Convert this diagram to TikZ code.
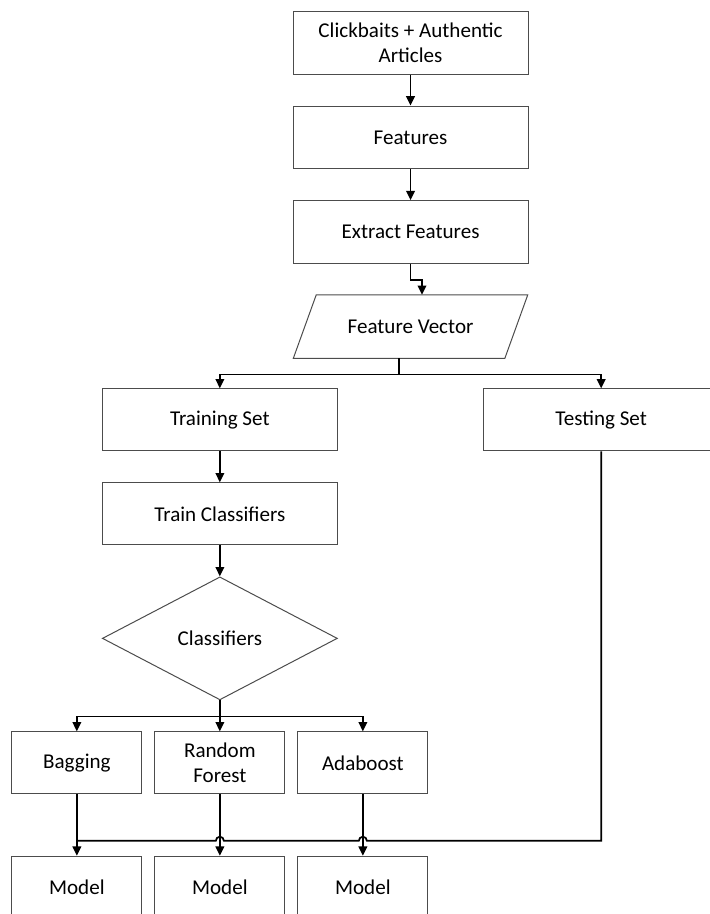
\documentclass[tikz,border=0pt]{standalone}
\usepackage{fontspec}
\setmainfont{Carlito}
\usetikzlibrary{positioning,shapes.geometric,arrows.meta,calc}

\begin{document}
\begin{tikzpicture}[node distance=23.25pt,
      font=\fontsize{15.8}{19.2}\selectfont,
      block/.style={
        % The shape:
        rectangle,minimum width=176.25pt,minimum height=47pt,
        % The rest
        align=center,draw=black!70,line width=0.75pt},
      lower/.style={block,minimum height=46.5pt},
      small/.style={lower,minimum width=97.5pt},
      decision/.style={diamond,minimum width=176.25pt,minimum height=92.25pt,inner sep=0pt,
        draw=black!70,line width=0.75pt},
      flow/.style={line width=1.3pt,-{Triangle[length=7pt,width=6.5pt]}}]
    \useasboundingbox (0,0) rectangle (532.5pt,-685.5pt);
    \node(src)[block] at (307.9pt,-32pt){Clickbaits + Authentic\\Articles};
    \node(feat)[block, below=of src]{Features};
    \node(ext)[block, below=of feat]{Extract Features};
    \node(vec)[below=of ext, minimum width=158.25pt, minimum height=47.25pt]{Feature Vector};
    \draw[draw=black!70,line width=0.75pt] ([xshift=-8.6pt]vec.south west) -- ([xshift=8.6pt]vec.north west)
      -- ([xshift=8.6pt]vec.north east) -- ([xshift=-8.6pt]vec.south east) -- cycle;
    \coordinate(vec-in) at ([xshift=8.6pt]vec.north);
    \coordinate(vec-out) at ([xshift=-8.6pt]vec.south);
    \node(train)[lower, below=22.5pt of vec, xshift=-143pt]{Training Set};
    \node(test)[lower, below=22.5pt of vec, xshift=143pt]{Testing Set};
    \node(trcl)[lower, below=of train]{Train Classifiers};
    \node(clf)[decision, below=of trcl]{Classifiers};
    \node(rf)[small, below=of clf]{Random\\Forest};
    \node(bag)[small, left=9pt of rf]{Bagging};
    \node(ada)[small, right=9pt of rf]{Adaboost};
    \node(mbag)[small, below=46pt of bag]{Model};
    \node(mrf)[small, below=46pt of rf]{Model};
    \node(mada)[small, below=46pt of ada]{Model};
    \coordinate(join) at ($(mbag.north)+(0,11.25pt)$);
    \draw[flow] (src) -- (feat);
    \draw[flow] (feat) -- (ext);
    \draw[flow] (ext.south) -- ++(0,-12pt) -| (vec-in);
    \draw[flow] (vec-out) -- ++(0,-12pt) -| (train);
    \draw[flow] (vec-out) -- ++(0,-12pt) -| (test);
    \draw[flow] (train) -- (trcl);
    \draw[flow] (trcl) -- (clf);
    \draw[flow] (clf.south) -- ++(0,-12pt) -| (bag);
    \draw[flow] (clf.south) -- (rf);
    \draw[flow] (clf.south) -- ++(0,-12pt) -| (ada);
    \draw[flow] (bag) -- (mbag);
    \draw[flow] (rf) -- (mrf);
    \draw[flow] (ada) -- (mada);
    \draw[line width=1.3pt] (test.south) |- ($(join -| ada.south)+(3pt,0)$)
      arc[start angle=0,end angle=180,radius=3pt] -- ($(join -| rf.south)+(3pt,0)$)
      arc[start angle=0,end angle=180,radius=3pt] -- (join);
  \end{tikzpicture}
\end{document}
